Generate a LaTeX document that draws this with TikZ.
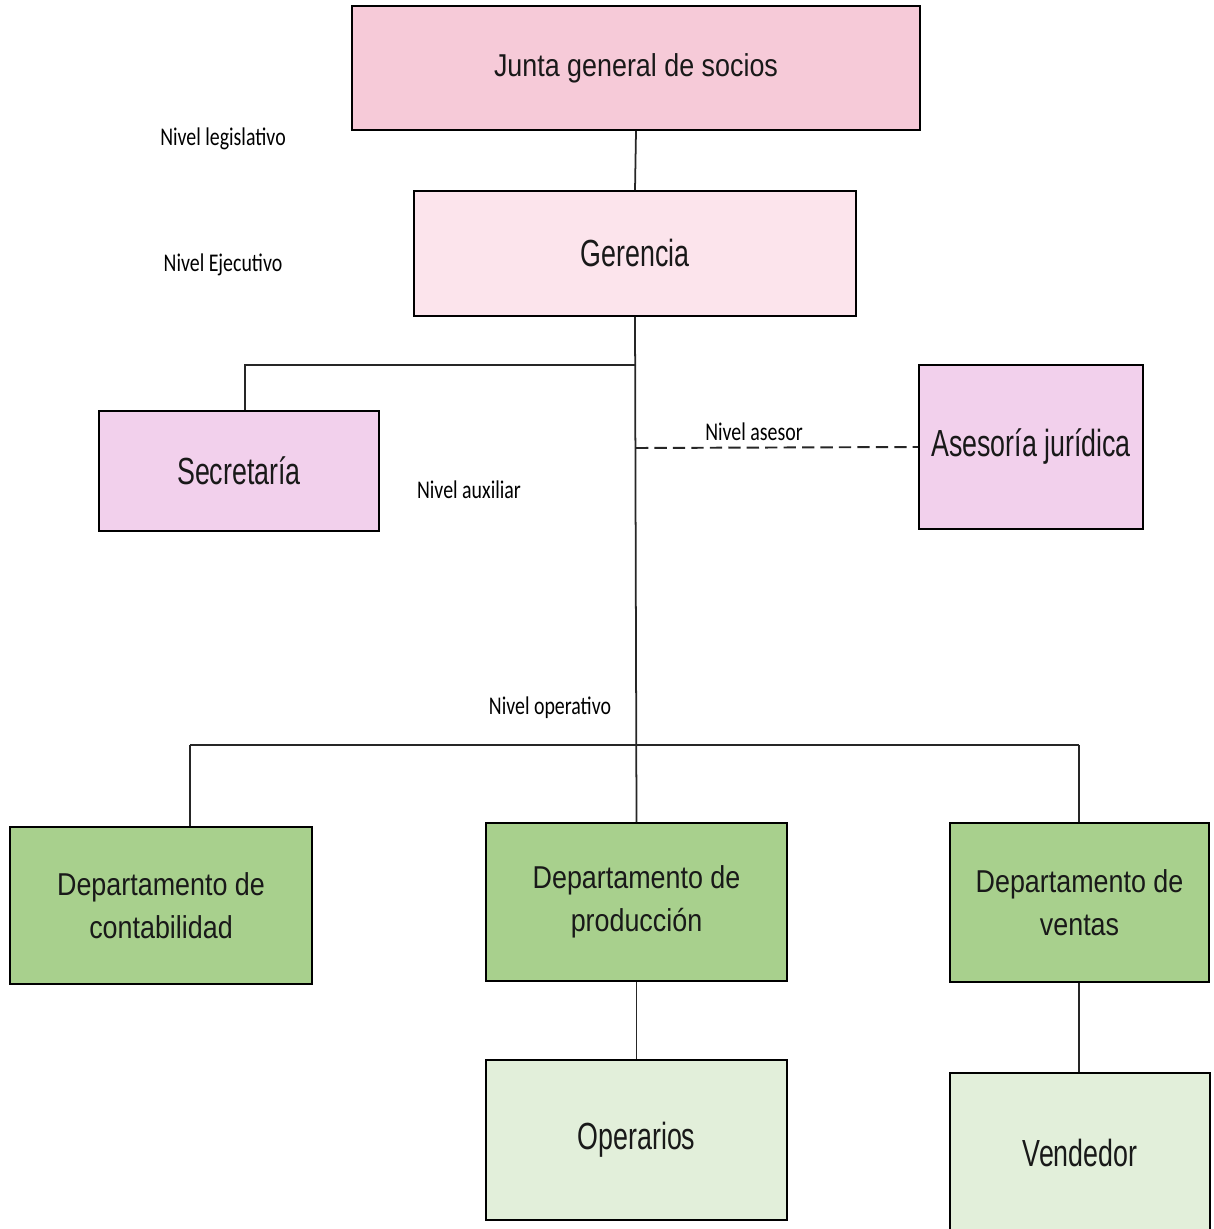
\documentclass[tikz,border=0pt]{standalone}
\usepackage{fontspec}
\newfontfamily\boxfont[FakeStretch=0.85]{Liberation Sans}
\newfontfamily\bigboxfont[FakeStretch=0.71]{Liberation Sans}
\newfontfamily\levelfont[FakeStretch=0.78]{Carlito}
\usetikzlibrary{calc}

\begin{document}
\begin{tikzpicture}[x=0.02cm, y=-0.02cm,
  orgbox/.style={draw=black, line width=1.1pt, inner sep=0pt, align=center,
                 text=black!90, font=\boxfont\fontsize{18}{24.5}\selectfont},
  bigbox/.style={orgbox, font=\bigboxfont\fontsize{21.5}{24}\selectfont},
  levelnote/.style={font=\levelfont\fontsize{14.5}{16}\selectfont, inner sep=0pt},
  link/.style={draw=black!85, line width=1pt}]

%─────────────
% Controls
%─────────────
\definecolor{juntapink}{RGB}{246,202,216}   % top box
\definecolor{gerpink}{RGB}{252,228,236}     % Gerencia
\definecolor{staffpink}{RGB}{242,208,236}   % Secretaria / Asesoria
\definecolor{deptgreen}{RGB}{168,208,141}   % departments
\definecolor{lightgreen}{RGB}{226,239,218}  % Operarios / Vendedor

\useasboundingbox (0,0) rectangle (1213,1229);

%─────────────
% Boxes
%─────────────
\node[orgbox, fill=juntapink, minimum width=11.36cm, minimum height=2.48cm] (junta) at (636,68) {Junta general de socios};
\node[bigbox, fill=gerpink, minimum width=8.84cm, minimum height=2.5cm] (gerencia) at (635,253.5) {Gerencia};
\node[bigbox, fill=staffpink, minimum width=5.6cm, minimum height=2.4cm] (secret) at (239,471) {Secretaría};
\node[bigbox, fill=staffpink, minimum width=4.48cm, minimum height=3.28cm] (asesor) at (1031,447) {Asesoría jurídica};

% Departments
\node[orgbox, fill=deptgreen, minimum width=6.04cm, minimum height=3.14cm] (cont) at (161,905.5) {Departamento de\\contabilidad};
\node[orgbox, fill=deptgreen, minimum width=6.02cm, minimum height=3.16cm] (prod) at (636.5,902) {Departamento de\\producción};
\node[orgbox, fill=deptgreen, minimum width=5.18cm, minimum height=3.18cm] (ventas) at (1079.5,902.5) {Departamento de\\ventas};

% Bottom row
\node[bigbox, fill=lightgreen, minimum width=6.02cm, minimum height=3.2cm] (oper) at (636.5,1140) {Operarios};
\node[bigbox, fill=lightgreen, minimum width=5.2cm, minimum height=3.2cm] (vend) at (1080,1153) {Vendedor};

%─────────────
% Joints
%─────────────
\coordinate (hub) at (636,365);
\coordinate (seccorner) at (245,365);
\coordinate (asesorjoin) at (636,448);
\coordinate (contcorner) at (190,745);
\coordinate (ventcorner) at (1079,745);

%─────────────
% Connectors
%─────────────
\draw[link] (junta.south) -- (gerencia.north);
\draw[link] (gerencia.south) -- (prod.north);
\draw[link, line width=1.1pt] (hub) -- (seccorner) -- (seccorner |- secret.north);
\draw[link, dash pattern=on 7pt off 3.5pt, line width=1.1pt] (asesorjoin) -- (asesor.west);
\draw[link, line width=1.4pt] (contcorner) -- (ventcorner);
\draw[link] (contcorner) -- (contcorner |- cont.north);
\draw[link] (ventcorner) -- (ventcorner |- ventas.north);
\draw[link] (prod.south) -- (oper.north);
\draw[link] (ventas.south -| ventcorner) -- (ventcorner |- vend.north);

%─────────────
% Labels
%─────────────
\node[levelnote] (legis) at (223,139) {Nivel legislativo};
\node[levelnote] (ejec) at (223,265) {Nivel Ejecutivo};
\node[levelnote] (aux) at (469,490) {Nivel auxiliar};
\node[levelnote] (aseslab) at (754,432) {Nivel asesor};
\node[levelnote] (operlab) at (550,708) {Nivel operativo};

\end{tikzpicture}
\end{document}
